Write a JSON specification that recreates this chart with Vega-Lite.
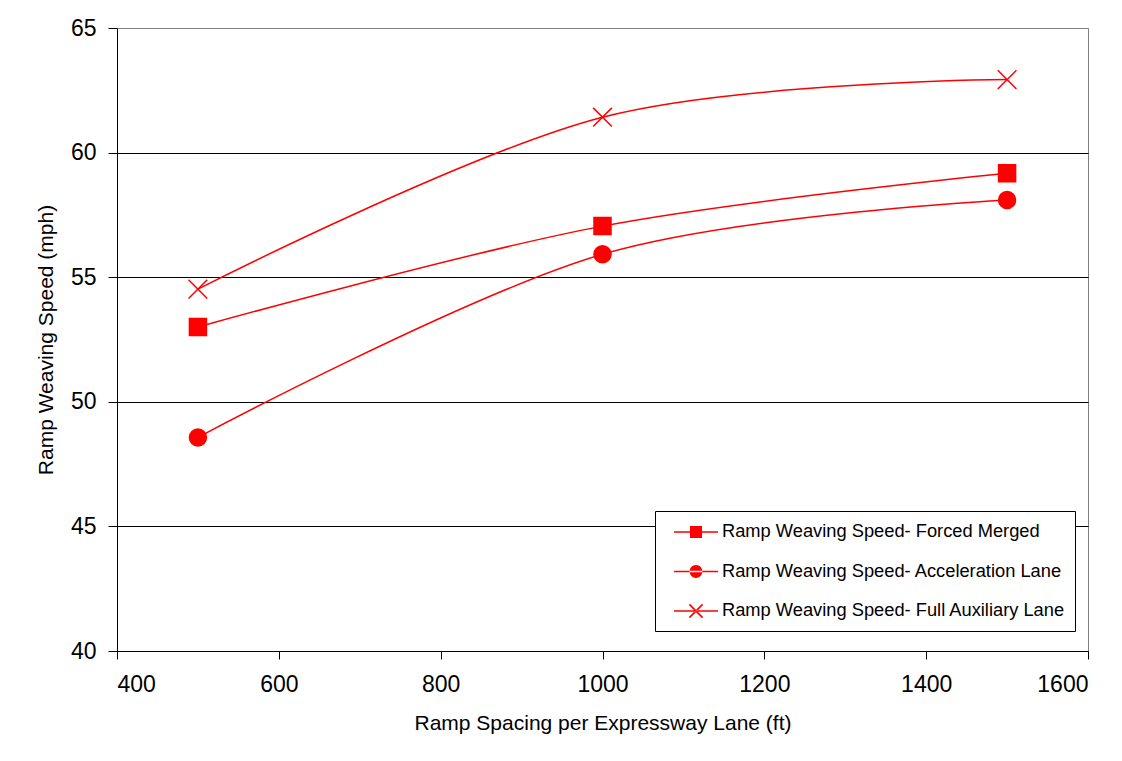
{
  "$schema": "https://vega.github.io/schema/vega-lite/v6.json",
  "width": 971,
  "height": 623,
  "autosize": {"type": "none"},
  "padding": {"left": 117, "top": 28, "right": 34, "bottom": 110},
  "background": "white",
  "config": {
    "font": "Liberation Sans",
    "view": {"stroke": "#808080", "strokeWidth": 1},
    "axis": {
      "domainColor": "black",
      "tickColor": "black",
      "labelColor": "black",
      "titleColor": "black",
      "titleFontWeight": "normal",
      "labelFont": "Liberation Sans",
      "titleFont": "Liberation Sans"
    }
  },
  "data": {
    "values": [
      {"spacing": 500, "speed": 53.0, "series": "Ramp Weaving Speed- Forced Merged"},
      {"spacing": 1000, "speed": 57.05, "series": "Ramp Weaving Speed- Forced Merged"},
      {"spacing": 1500, "speed": 59.17, "series": "Ramp Weaving Speed- Forced Merged"},
      {"spacing": 500, "speed": 48.57, "series": "Ramp Weaving Speed- Acceleration Lane"},
      {"spacing": 1000, "speed": 55.92, "series": "Ramp Weaving Speed- Acceleration Lane"},
      {"spacing": 1500, "speed": 58.1, "series": "Ramp Weaving Speed- Acceleration Lane"},
      {"spacing": 500, "speed": 54.52, "series": "Ramp Weaving Speed- Full Auxiliary Lane"},
      {"spacing": 1000, "speed": 61.42, "series": "Ramp Weaving Speed- Full Auxiliary Lane"},
      {"spacing": 1500, "speed": 62.93, "series": "Ramp Weaving Speed- Full Auxiliary Lane"}
    ]
  },
  "encoding": {
    "x": {
      "field": "spacing",
      "type": "quantitative",
      "scale": {"domain": [400, 1600], "nice": false, "zero": false},
      "axis": {
        "values": [400, 600, 800, 1000, 1200, 1400, 1600],
        "format": "d",
        "grid": false,
        "title": "Ramp Spacing per Expressway Lane (ft)",
        "titleFontSize": 21,
        "labelFontSize": 23,
        "tickSize": 8,
        "labelPadding": 14,
        "titlePadding": 16
      }
    },
    "y": {
      "field": "speed",
      "type": "quantitative",
      "scale": {"domain": [40, 65], "nice": false, "zero": false},
      "axis": {
        "values": [40, 45, 50, 55, 60, 65],
        "format": "d",
        "grid": true,
        "gridColor": {"condition": {"test": "datum.value == 65", "value": "#808080"}, "value": "black"},
        "gridOpacity": 1,
        "title": "Ramp Weaving Speed (mph)",
        "titleFontSize": 21,
        "labelFontSize": 23,
        "tickSize": 9,
        "labelPadding": 12,
        "titlePadding": 14
      }
    }
  },
  "layer": [
    {
      "mark": {"type": "line", "interpolate": "cardinal", "color": "red", "strokeWidth": 1.5},
      "encoding": {"detail": {"field": "series"}}
    },
    {
      "mark": {"type": "point", "filled": true, "fill": "red", "stroke": "red", "strokeWidth": 1.5, "size": 289, "opacity": 1},
      "encoding": {
        "shape": {
          "field": "series",
          "type": "nominal",
          "scale": {
            "domain": ["Ramp Weaving Speed- Forced Merged", "Ramp Weaving Speed- Acceleration Lane", "Ramp Weaving Speed- Full Auxiliary Lane"],
            "range": ["square", "circle", "M-1.1,-1.1L1.1,1.1M-1.1,1.1L1.1,-1.1"]
          },
          "legend": null
        }
      }
    },
    {
      "transform": [{"filter": "datum.spacing < 0"}],
      "mark": {"type": "point", "filled": true, "color": "red", "size": 484, "opacity": 1},
      "encoding": {
        "shape": {
          "field": "series",
          "type": "nominal",
          "scale": {
            "domain": ["Ramp Weaving Speed- Forced Merged", "Ramp Weaving Speed- Acceleration Lane", "Ramp Weaving Speed- Full Auxiliary Lane"],
            "range": [
              "M-2,-0.07H2V0.07H-2Z M-0.55,-0.55H0.55V0.55H-0.55Z",
              "M-2,-0.07H2V0.07H-2Z M-0.58,0A0.58,0.58 0 1,0 0.58,0A0.58,0.58 0 1,0 -0.58,0Z",
              "M-2,-0.07H2V0.07H-2Z M-0.55,-0.65L0.65,0.55L0.55,0.65L-0.65,-0.55Z M-0.55,0.65L0.65,-0.55L0.55,-0.65L-0.65,0.55Z"
            ]
          },
          "legend": {
            "title": null,
            "orient": "none",
            "legendX": 538,
            "legendY": 483,
            "direction": "vertical",
            "strokeColor": "black",
            "fillColor": "white",
            "padding": 9,
            "rowPadding": 17.5,
            "symbolSize": 484,
            "symbolOffset": 20,
            "labelOffset": 14,
            "labelFontSize": 18.3,
            "labelFont": "Liberation Sans",
            "labelColor": "black",
            "labelLimit": 500,
            "symbolFillColor": "red",
            "symbolOpacity": 1
          }
        }
      }
    }
  ],
  "resolve": {"scale": {"shape": "independent"}, "legend": {"shape": "independent"}}
}
